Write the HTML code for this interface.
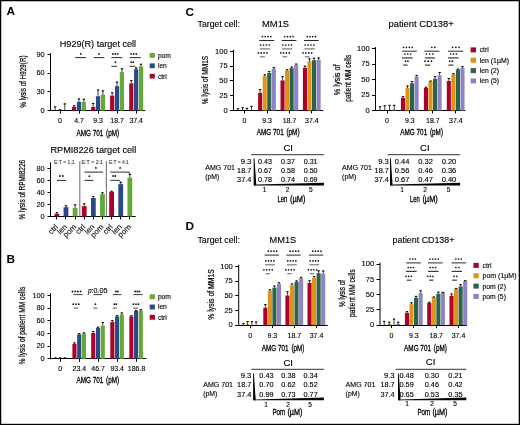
<!DOCTYPE html>
<html><head><meta charset="utf-8"><style>
html,body{margin:0;padding:0;background:#fff;}
body{width:520px;height:425px;overflow:hidden;}
svg{display:block;filter:blur(0.3px);font-family:"Liberation Sans", sans-serif;}
</style></head><body>
<svg width="520" height="425" viewBox="0 0 520 425">
<rect width="520" height="425" fill="#fff"/>
<rect x="0" y="0" width="1.25" height="425" fill="#000"/>
<rect x="0" y="0" width="520" height="1.25" fill="#000"/>
<rect x="518.7" y="0" width="1.3" height="425" fill="#000"/>
<rect x="0" y="423.8" width="520" height="1.2" fill="#000"/>
<text x="6.6" y="15.3" font-size="11.8" font-weight="bold">A</text>
<text x="6.6" y="263.3" font-size="11.8" font-weight="bold">B</text>
<text x="185.4" y="15.5" font-size="11.8" font-weight="bold">C</text>
<text x="185.4" y="230.2" font-size="11.8" font-weight="bold">D</text>
<line x1="50.5" y1="53.2" x2="50.5" y2="111.1" stroke="#000" stroke-width="1"/>
<line x1="50" y1="110.5" x2="145.2" y2="110.5" stroke="#000" stroke-width="1"/>
<line x1="47.5" y1="110.5" x2="50.5" y2="110.5" stroke="#000" stroke-width="1"/>
<text x="44.7" y="112.9" font-size="8" stroke="#000" stroke-width="0.12" text-anchor="end" textLength="4.1" lengthAdjust="spacingAndGlyphs">0</text>
<line x1="47.5" y1="91.5" x2="50.5" y2="91.5" stroke="#000" stroke-width="1"/>
<text x="44.7" y="94.17" font-size="8" stroke="#000" stroke-width="0.12" text-anchor="end" textLength="8.2" lengthAdjust="spacingAndGlyphs">30</text>
<line x1="47.5" y1="73.5" x2="50.5" y2="73.5" stroke="#000" stroke-width="1"/>
<text x="44.7" y="75.43" font-size="8" stroke="#000" stroke-width="0.12" text-anchor="end" textLength="8.2" lengthAdjust="spacingAndGlyphs">60</text>
<line x1="47.5" y1="54.5" x2="50.5" y2="54.5" stroke="#000" stroke-width="1"/>
<text x="44.7" y="56.7" font-size="8" stroke="#000" stroke-width="0.12" text-anchor="end" textLength="8.2" lengthAdjust="spacingAndGlyphs">90</text>
<text x="59.8" y="47.1" font-size="8.7" stroke="#000" stroke-width="0.12" textLength="76.3" lengthAdjust="spacingAndGlyphs">H929(R) target cell</text>
<text x="25.7" y="81.6" font-size="8.8" stroke="#000" stroke-width="0.2" text-anchor="middle" textLength="52.3" lengthAdjust="spacingAndGlyphs" transform="rotate(-90 25.7 81.6)">% lysis of H929(R)</text>
<line x1="60.5" y1="110.6" x2="60.5" y2="113.6" stroke="#000" stroke-width="1"/>
<text x="60" y="123.4" font-size="7" stroke="#000" stroke-width="0.12" text-anchor="middle">0</text>
<line x1="79.5" y1="110.6" x2="79.5" y2="113.6" stroke="#000" stroke-width="1"/>
<text x="79" y="123.4" font-size="7" stroke="#000" stroke-width="0.12" text-anchor="middle">4.7</text>
<line x1="98.5" y1="110.6" x2="98.5" y2="113.6" stroke="#000" stroke-width="1"/>
<text x="98.1" y="123.4" font-size="7" stroke="#000" stroke-width="0.12" text-anchor="middle">9.3</text>
<line x1="117.5" y1="110.6" x2="117.5" y2="113.6" stroke="#000" stroke-width="1"/>
<text x="117.1" y="123.4" font-size="7" stroke="#000" stroke-width="0.12" text-anchor="middle">18.7</text>
<line x1="136.5" y1="110.6" x2="136.5" y2="113.6" stroke="#000" stroke-width="1"/>
<text x="136.2" y="123.4" font-size="7" stroke="#000" stroke-width="0.12" text-anchor="middle">37.4</text>
<text x="76.4" y="135.7" font-size="9" stroke="#000" stroke-width="0.3" textLength="26.9" lengthAdjust="spacingAndGlyphs">AMG 701</text>
<text x="106.1" y="135.7" font-size="9" stroke="#000" stroke-width="0.3" textLength="13" lengthAdjust="spacingAndGlyphs">(pM)</text>
<rect x="53" y="110.6" width="4.2" height="0" fill="#a9032a"/>
<line x1="55.1" y1="110.6" x2="55.1" y2="106.4" stroke="#2a2a2a" stroke-width="0.9"/>
<line x1="53.9" y1="106.9" x2="56.3" y2="106.9" stroke="#111" stroke-width="1.1"/>
<rect x="57.85" y="110.6" width="4.2" height="0" fill="#2a4a87"/>
<line x1="59.95" y1="110.6" x2="59.95" y2="109.2" stroke="#2a2a2a" stroke-width="0.9"/>
<line x1="58.75" y1="109.7" x2="61.15" y2="109.7" stroke="#111" stroke-width="1.1"/>
<rect x="62.7" y="110.6" width="4.2" height="0" fill="#64a83a"/>
<line x1="64.8" y1="110.6" x2="64.8" y2="103.4" stroke="#2a2a2a" stroke-width="0.9"/>
<line x1="63.6" y1="103.9" x2="66" y2="103.9" stroke="#111" stroke-width="1.1"/>
<rect x="72" y="106.9" width="4.2" height="3.7" fill="#a9032a"/>
<line x1="74.1" y1="106.9" x2="74.1" y2="105.2" stroke="#2a2a2a" stroke-width="0.9"/>
<line x1="72.9" y1="105.7" x2="75.3" y2="105.7" stroke="#111" stroke-width="1.1"/>
<rect x="76.85" y="101.8" width="4.2" height="8.8" fill="#2a4a87"/>
<line x1="78.95" y1="101.8" x2="78.95" y2="98.4" stroke="#2a2a2a" stroke-width="0.9"/>
<line x1="77.75" y1="98.9" x2="80.15" y2="98.9" stroke="#111" stroke-width="1.1"/>
<rect x="81.7" y="101.8" width="4.2" height="8.8" fill="#64a83a"/>
<line x1="83.8" y1="101.8" x2="83.8" y2="98.8" stroke="#2a2a2a" stroke-width="0.9"/>
<line x1="82.6" y1="99.3" x2="85" y2="99.3" stroke="#111" stroke-width="1.1"/>
<rect x="91.1" y="106.9" width="4.2" height="3.7" fill="#a9032a"/>
<line x1="93.2" y1="106.9" x2="93.2" y2="103" stroke="#2a2a2a" stroke-width="0.9"/>
<line x1="92" y1="103.5" x2="94.4" y2="103.5" stroke="#111" stroke-width="1.1"/>
<rect x="95.95" y="96.2" width="4.2" height="14.4" fill="#2a4a87"/>
<line x1="98.05" y1="96.2" x2="98.05" y2="89.5" stroke="#2a2a2a" stroke-width="0.9"/>
<line x1="96.85" y1="90" x2="99.25" y2="90" stroke="#111" stroke-width="1.1"/>
<rect x="100.8" y="94.7" width="4.2" height="15.9" fill="#64a83a"/>
<line x1="102.9" y1="94.7" x2="102.9" y2="90.4" stroke="#2a2a2a" stroke-width="0.9"/>
<line x1="101.7" y1="90.9" x2="104.1" y2="90.9" stroke="#111" stroke-width="1.1"/>
<rect x="110.1" y="95.6" width="4.2" height="15" fill="#a9032a"/>
<line x1="112.2" y1="95.6" x2="112.2" y2="92.3" stroke="#2a2a2a" stroke-width="0.9"/>
<line x1="111" y1="92.8" x2="113.4" y2="92.8" stroke="#111" stroke-width="1.1"/>
<rect x="114.95" y="86.2" width="4.2" height="24.4" fill="#2a4a87"/>
<line x1="117.05" y1="86.2" x2="117.05" y2="81.6" stroke="#2a2a2a" stroke-width="0.9"/>
<line x1="115.85" y1="82.1" x2="118.25" y2="82.1" stroke="#111" stroke-width="1.1"/>
<rect x="119.8" y="72.1" width="4.2" height="38.5" fill="#64a83a"/>
<line x1="121.9" y1="72.1" x2="121.9" y2="68.3" stroke="#2a2a2a" stroke-width="0.9"/>
<line x1="120.7" y1="68.8" x2="123.1" y2="68.8" stroke="#111" stroke-width="1.1"/>
<rect x="129.2" y="83.4" width="4.2" height="27.2" fill="#a9032a"/>
<line x1="131.3" y1="83.4" x2="131.3" y2="80" stroke="#2a2a2a" stroke-width="0.9"/>
<line x1="130.1" y1="80.5" x2="132.5" y2="80.5" stroke="#111" stroke-width="1.1"/>
<rect x="134.05" y="69.2" width="4.2" height="41.4" fill="#2a4a87"/>
<line x1="136.15" y1="69.2" x2="136.15" y2="67.6" stroke="#2a2a2a" stroke-width="0.9"/>
<line x1="134.95" y1="68.1" x2="137.35" y2="68.1" stroke="#111" stroke-width="1.1"/>
<rect x="138.9" y="66.3" width="4.2" height="44.3" fill="#64a83a"/>
<line x1="141" y1="66.3" x2="141" y2="63.8" stroke="#2a2a2a" stroke-width="0.9"/>
<line x1="139.8" y1="64.3" x2="142.2" y2="64.3" stroke="#111" stroke-width="1.1"/>
<line x1="75.4" y1="57.6" x2="86.2" y2="57.6" stroke="#111" stroke-width="0.9"/>
<line x1="93.6" y1="57.6" x2="104.3" y2="57.6" stroke="#111" stroke-width="0.9"/>
<line x1="111.4" y1="57.6" x2="122.3" y2="57.6" stroke="#111" stroke-width="0.9"/>
<line x1="129.6" y1="57.6" x2="140.8" y2="57.6" stroke="#111" stroke-width="0.9"/>
<circle cx="80.8" cy="53.9" r="0.9" fill="#111"/>
<circle cx="99" cy="53.9" r="0.9" fill="#111"/>
<circle cx="112.9" cy="53.9" r="0.9" fill="#111"/>
<circle cx="115.3" cy="53.9" r="0.9" fill="#111"/>
<circle cx="117.7" cy="53.9" r="0.9" fill="#111"/>
<circle cx="131.1" cy="53.9" r="0.9" fill="#111"/>
<circle cx="133.7" cy="53.9" r="0.9" fill="#111"/>
<circle cx="136.3" cy="53.9" r="0.9" fill="#111"/>
<line x1="111.4" y1="66.3" x2="117" y2="66.3" stroke="#111" stroke-width="0.9"/>
<circle cx="115.4" cy="62.2" r="0.9" fill="#111"/>
<line x1="129.6" y1="66.3" x2="134.8" y2="66.3" stroke="#111" stroke-width="0.9"/>
<line x1="134.6" y1="66.3" x2="135.8" y2="67.6" stroke="#111" stroke-width="0.8"/>
<circle cx="131.1" cy="62.2" r="0.9" fill="#111"/>
<circle cx="133.3" cy="62.2" r="0.9" fill="#111"/>
<rect x="149.7" y="53" width="5.1" height="4.8" fill="#64a83a"/>
<text x="157.9" y="57.9" font-size="6.7" stroke="#000" stroke-width="0.12">pom</text>
<rect x="149.7" y="63.4" width="5.1" height="4.8" fill="#2a4a87"/>
<text x="157.9" y="68.3" font-size="6.7" stroke="#000" stroke-width="0.12">len</text>
<rect x="149.7" y="73.8" width="5.1" height="4.8" fill="#a9032a"/>
<text x="157.9" y="78.7" font-size="6.7" stroke="#000" stroke-width="0.12">ctrl</text>
<line x1="50.5" y1="162.3" x2="50.5" y2="217" stroke="#000" stroke-width="1"/>
<line x1="50" y1="216.5" x2="135.7" y2="216.5" stroke="#000" stroke-width="1"/>
<line x1="47.5" y1="216.5" x2="50.5" y2="216.5" stroke="#000" stroke-width="1"/>
<text x="44.6" y="218.8" font-size="8" stroke="#000" stroke-width="0.12" text-anchor="end" textLength="4.1" lengthAdjust="spacingAndGlyphs">0</text>
<line x1="47.5" y1="204.5" x2="50.5" y2="204.5" stroke="#000" stroke-width="1"/>
<text x="44.6" y="206.73" font-size="8" stroke="#000" stroke-width="0.12" text-anchor="end" textLength="8.2" lengthAdjust="spacingAndGlyphs">20</text>
<line x1="47.5" y1="192.5" x2="50.5" y2="192.5" stroke="#000" stroke-width="1"/>
<text x="44.6" y="194.65" font-size="8" stroke="#000" stroke-width="0.12" text-anchor="end" textLength="8.2" lengthAdjust="spacingAndGlyphs">40</text>
<line x1="47.5" y1="180.5" x2="50.5" y2="180.5" stroke="#000" stroke-width="1"/>
<text x="44.6" y="182.57" font-size="8" stroke="#000" stroke-width="0.12" text-anchor="end" textLength="8.2" lengthAdjust="spacingAndGlyphs">60</text>
<line x1="47.5" y1="168.5" x2="50.5" y2="168.5" stroke="#000" stroke-width="1"/>
<text x="44.6" y="170.5" font-size="8" stroke="#000" stroke-width="0.12" text-anchor="end" textLength="8.2" lengthAdjust="spacingAndGlyphs">80</text>
<text x="50.4" y="153.3" font-size="8.7" stroke="#000" stroke-width="0.12" textLength="85.8" lengthAdjust="spacingAndGlyphs">RPMI8226 target cell</text>
<text x="24.7" y="189.7" font-size="8.5" stroke="#000" stroke-width="0.2" text-anchor="middle" textLength="59.5" lengthAdjust="spacingAndGlyphs" transform="rotate(-90 24.7 189.7)">% lysis of RPMI8226</text>
<line x1="79.8" y1="161.3" x2="79.8" y2="216.5" stroke="#777" stroke-width="1.1"/>
<line x1="106.4" y1="161.3" x2="106.4" y2="216.5" stroke="#777" stroke-width="1.1"/>
<text x="53.9" y="163.6" font-size="5" stroke="#444" stroke-width="0.12" textLength="20.8" lengthAdjust="spacingAndGlyphs" fill="#444">E:T = 1:1</text>
<text x="81.6" y="163.6" font-size="5" stroke="#444" stroke-width="0.12" textLength="21.4" lengthAdjust="spacingAndGlyphs" fill="#444">E:T = 2:1</text>
<text x="109" y="163.6" font-size="5" stroke="#444" stroke-width="0.12" textLength="19.8" lengthAdjust="spacingAndGlyphs" fill="#444">E:T = 4:1</text>
<rect x="54.45" y="213.8" width="4.8" height="2.7" fill="#a9032a"/>
<line x1="56.85" y1="213.8" x2="56.85" y2="212.2" stroke="#2a2a2a" stroke-width="0.9"/>
<line x1="55.65" y1="212.7" x2="58.05" y2="212.7" stroke="#111" stroke-width="1.1"/>
<line x1="56.5" y1="216.5" x2="56.5" y2="219.5" stroke="#000" stroke-width="1"/>
<text x="58.55" y="227.4" font-size="7.8" stroke="#000" stroke-width="0.12" text-anchor="end" transform="rotate(-45 58.55 227.4)">ctrl</text>
<rect x="63.57" y="207.2" width="4.8" height="9.3" fill="#2a4a87"/>
<line x1="65.97" y1="207.2" x2="65.97" y2="205.3" stroke="#2a2a2a" stroke-width="0.9"/>
<line x1="64.77" y1="205.8" x2="67.17" y2="205.8" stroke="#111" stroke-width="1.1"/>
<line x1="65.5" y1="216.5" x2="65.5" y2="219.5" stroke="#000" stroke-width="1"/>
<text x="67.67" y="227.4" font-size="7.8" stroke="#000" stroke-width="0.12" text-anchor="end" transform="rotate(-45 67.67 227.4)">len</text>
<rect x="72.7" y="207.8" width="4.8" height="8.7" fill="#64a83a"/>
<line x1="75.1" y1="207.8" x2="75.1" y2="204.3" stroke="#2a2a2a" stroke-width="0.9"/>
<line x1="73.9" y1="204.8" x2="76.3" y2="204.8" stroke="#111" stroke-width="1.1"/>
<line x1="75.5" y1="216.5" x2="75.5" y2="219.5" stroke="#000" stroke-width="1"/>
<text x="76.8" y="227.4" font-size="7.8" stroke="#000" stroke-width="0.12" text-anchor="end" transform="rotate(-45 76.8 227.4)">pom</text>
<rect x="81.82" y="206.2" width="4.8" height="10.3" fill="#a9032a"/>
<line x1="84.22" y1="206.2" x2="84.22" y2="203.3" stroke="#2a2a2a" stroke-width="0.9"/>
<line x1="83.02" y1="203.8" x2="85.42" y2="203.8" stroke="#111" stroke-width="1.1"/>
<line x1="84.5" y1="216.5" x2="84.5" y2="219.5" stroke="#000" stroke-width="1"/>
<text x="85.92" y="227.4" font-size="7.8" stroke="#000" stroke-width="0.12" text-anchor="end" transform="rotate(-45 85.92 227.4)">ctrl</text>
<rect x="90.95" y="198" width="4.8" height="18.5" fill="#2a4a87"/>
<line x1="93.35" y1="198" x2="93.35" y2="196" stroke="#2a2a2a" stroke-width="0.9"/>
<line x1="92.15" y1="196.5" x2="94.55" y2="196.5" stroke="#111" stroke-width="1.1"/>
<line x1="93.5" y1="216.5" x2="93.5" y2="219.5" stroke="#000" stroke-width="1"/>
<text x="95.05" y="227.4" font-size="7.8" stroke="#000" stroke-width="0.12" text-anchor="end" transform="rotate(-45 95.05 227.4)">len</text>
<rect x="100.07" y="194.1" width="4.8" height="22.4" fill="#64a83a"/>
<line x1="102.47" y1="194.1" x2="102.47" y2="192.2" stroke="#2a2a2a" stroke-width="0.9"/>
<line x1="101.27" y1="192.7" x2="103.67" y2="192.7" stroke="#111" stroke-width="1.1"/>
<line x1="102.5" y1="216.5" x2="102.5" y2="219.5" stroke="#000" stroke-width="1"/>
<text x="104.17" y="227.4" font-size="7.8" stroke="#000" stroke-width="0.12" text-anchor="end" transform="rotate(-45 104.17 227.4)">pom</text>
<rect x="109.2" y="191.9" width="4.8" height="24.6" fill="#a9032a"/>
<line x1="111.6" y1="191.9" x2="111.6" y2="190.9" stroke="#2a2a2a" stroke-width="0.9"/>
<line x1="110.4" y1="191.4" x2="112.8" y2="191.4" stroke="#111" stroke-width="1.1"/>
<line x1="111.5" y1="216.5" x2="111.5" y2="219.5" stroke="#000" stroke-width="1"/>
<text x="113.3" y="227.4" font-size="7.8" stroke="#000" stroke-width="0.12" text-anchor="end" transform="rotate(-45 113.3 227.4)">ctrl</text>
<rect x="118.32" y="184.1" width="4.8" height="32.4" fill="#2a4a87"/>
<line x1="120.72" y1="184.1" x2="120.72" y2="181.9" stroke="#2a2a2a" stroke-width="0.9"/>
<line x1="119.52" y1="182.4" x2="121.92" y2="182.4" stroke="#111" stroke-width="1.1"/>
<line x1="120.5" y1="216.5" x2="120.5" y2="219.5" stroke="#000" stroke-width="1"/>
<text x="122.42" y="227.4" font-size="7.8" stroke="#000" stroke-width="0.12" text-anchor="end" transform="rotate(-45 122.42 227.4)">len</text>
<rect x="127.45" y="177.7" width="4.8" height="38.8" fill="#64a83a"/>
<line x1="129.85" y1="177.7" x2="129.85" y2="173.9" stroke="#2a2a2a" stroke-width="0.9"/>
<line x1="128.65" y1="174.4" x2="131.05" y2="174.4" stroke="#111" stroke-width="1.1"/>
<line x1="129.5" y1="216.5" x2="129.5" y2="219.5" stroke="#000" stroke-width="1"/>
<text x="131.55" y="227.4" font-size="7.8" stroke="#000" stroke-width="0.12" text-anchor="end" transform="rotate(-45 131.55 227.4)">pom</text>
<line x1="57" y1="180.4" x2="66" y2="180.4" stroke="#111" stroke-width="0.9"/>
<circle cx="59.9" cy="176" r="0.9" fill="#111"/>
<circle cx="62.9" cy="176" r="0.9" fill="#111"/>
<line x1="84.5" y1="180.4" x2="93.4" y2="180.4" stroke="#111" stroke-width="0.9"/>
<circle cx="89.4" cy="176.2" r="0.9" fill="#111"/>
<line x1="84.5" y1="172.1" x2="103" y2="172.1" stroke="#111" stroke-width="0.9"/>
<circle cx="95.9" cy="167.9" r="0.9" fill="#111"/>
<line x1="110.3" y1="172.1" x2="129.2" y2="172.1" stroke="#111" stroke-width="0.9"/>
<line x1="129.2" y1="172.1" x2="129.4" y2="173.8" stroke="#111" stroke-width="0.8"/>
<circle cx="120.1" cy="167.9" r="0.9" fill="#111"/>
<line x1="110.3" y1="180.3" x2="119.4" y2="180.3" stroke="#111" stroke-width="0.9"/>
<line x1="119.3" y1="180.3" x2="120.5" y2="181.9" stroke="#111" stroke-width="0.8"/>
<circle cx="113.1" cy="176" r="0.9" fill="#111"/>
<circle cx="115.3" cy="176" r="0.9" fill="#111"/>
<line x1="50.5" y1="293.2" x2="50.5" y2="359.3" stroke="#000" stroke-width="1"/>
<line x1="50" y1="358.5" x2="146.2" y2="358.5" stroke="#000" stroke-width="1"/>
<line x1="47.5" y1="358.5" x2="50.5" y2="358.5" stroke="#000" stroke-width="1"/>
<text x="44.7" y="361.1" font-size="8" stroke="#000" stroke-width="0.12" text-anchor="end" textLength="4.1" lengthAdjust="spacingAndGlyphs">0</text>
<line x1="47.5" y1="346.5" x2="50.5" y2="346.5" stroke="#000" stroke-width="1"/>
<text x="44.7" y="348.4" font-size="8" stroke="#000" stroke-width="0.12" text-anchor="end" textLength="8.2" lengthAdjust="spacingAndGlyphs">20</text>
<line x1="47.5" y1="333.5" x2="50.5" y2="333.5" stroke="#000" stroke-width="1"/>
<text x="44.7" y="335.7" font-size="8" stroke="#000" stroke-width="0.12" text-anchor="end" textLength="8.2" lengthAdjust="spacingAndGlyphs">40</text>
<line x1="47.5" y1="320.5" x2="50.5" y2="320.5" stroke="#000" stroke-width="1"/>
<text x="44.7" y="323" font-size="8" stroke="#000" stroke-width="0.12" text-anchor="end" textLength="8.2" lengthAdjust="spacingAndGlyphs">60</text>
<line x1="47.5" y1="308.5" x2="50.5" y2="308.5" stroke="#000" stroke-width="1"/>
<text x="44.7" y="310.3" font-size="8" stroke="#000" stroke-width="0.12" text-anchor="end" textLength="8.2" lengthAdjust="spacingAndGlyphs">80</text>
<line x1="47.5" y1="295.5" x2="50.5" y2="295.5" stroke="#000" stroke-width="1"/>
<text x="44.7" y="297.6" font-size="8" stroke="#000" stroke-width="0.12" text-anchor="end" textLength="12.3" lengthAdjust="spacingAndGlyphs">100</text>
<text x="25.4" y="325.6" font-size="8.8" stroke="#000" stroke-width="0.2" text-anchor="middle" textLength="77.8" lengthAdjust="spacingAndGlyphs" transform="rotate(-90 25.4 325.6)">% lysis of patient MM cells</text>
<line x1="60.5" y1="358.8" x2="60.5" y2="361.8" stroke="#000" stroke-width="1"/>
<text x="60.2" y="370.9" font-size="7" stroke="#000" stroke-width="0.12" text-anchor="middle">0</text>
<line x1="79.5" y1="358.8" x2="79.5" y2="361.8" stroke="#000" stroke-width="1"/>
<text x="79.3" y="370.9" font-size="7" stroke="#000" stroke-width="0.12" text-anchor="middle">23.4</text>
<line x1="98.5" y1="358.8" x2="98.5" y2="361.8" stroke="#000" stroke-width="1"/>
<text x="98.1" y="370.9" font-size="7" stroke="#000" stroke-width="0.12" text-anchor="middle">46.7</text>
<line x1="117.5" y1="358.8" x2="117.5" y2="361.8" stroke="#000" stroke-width="1"/>
<text x="117.2" y="370.9" font-size="7" stroke="#000" stroke-width="0.12" text-anchor="middle">93.4</text>
<line x1="136.5" y1="358.8" x2="136.5" y2="361.8" stroke="#000" stroke-width="1"/>
<text x="136.6" y="370.9" font-size="7" stroke="#000" stroke-width="0.12" text-anchor="middle">186.8</text>
<text x="76.4" y="383" font-size="9" stroke="#000" stroke-width="0.3" textLength="26.9" lengthAdjust="spacingAndGlyphs">AMG 701</text>
<text x="106.1" y="383" font-size="9" stroke="#000" stroke-width="0.3" textLength="13" lengthAdjust="spacingAndGlyphs">(pM)</text>
<line x1="54.3" y1="357.9" x2="56.5" y2="357.9" stroke="#111" stroke-width="1.2"/>
<line x1="59.05" y1="357.9" x2="61.25" y2="357.9" stroke="#111" stroke-width="1.2"/>
<line x1="63.8" y1="357.9" x2="66" y2="357.9" stroke="#111" stroke-width="1.2"/>
<rect x="72.4" y="344" width="4.1" height="14.8" fill="#a9032a"/>
<line x1="74.45" y1="344" x2="74.45" y2="342.4" stroke="#2a2a2a" stroke-width="0.9"/>
<line x1="73.25" y1="342.9" x2="75.65" y2="342.9" stroke="#111" stroke-width="1.1"/>
<rect x="77.15" y="334.4" width="4.1" height="24.4" fill="#2a4a87"/>
<line x1="79.2" y1="334.4" x2="79.2" y2="333.2" stroke="#2a2a2a" stroke-width="0.9"/>
<line x1="78" y1="333.7" x2="80.4" y2="333.7" stroke="#111" stroke-width="1.1"/>
<rect x="81.9" y="333.6" width="4.1" height="25.2" fill="#64a83a"/>
<line x1="83.95" y1="333.6" x2="83.95" y2="332.4" stroke="#2a2a2a" stroke-width="0.9"/>
<line x1="82.75" y1="332.9" x2="85.15" y2="332.9" stroke="#111" stroke-width="1.1"/>
<rect x="91.2" y="333" width="4.1" height="25.8" fill="#a9032a"/>
<line x1="93.25" y1="333" x2="93.25" y2="331" stroke="#2a2a2a" stroke-width="0.9"/>
<line x1="92.05" y1="331.5" x2="94.45" y2="331.5" stroke="#111" stroke-width="1.1"/>
<rect x="95.95" y="328" width="4.1" height="30.8" fill="#2a4a87"/>
<line x1="98" y1="328" x2="98" y2="326.8" stroke="#2a2a2a" stroke-width="0.9"/>
<line x1="96.8" y1="327.3" x2="99.2" y2="327.3" stroke="#111" stroke-width="1.1"/>
<rect x="100.7" y="325.6" width="4.1" height="33.2" fill="#64a83a"/>
<line x1="102.75" y1="325.6" x2="102.75" y2="322" stroke="#2a2a2a" stroke-width="0.9"/>
<line x1="101.55" y1="322.5" x2="103.95" y2="322.5" stroke="#111" stroke-width="1.1"/>
<rect x="110.3" y="322" width="4.1" height="36.8" fill="#a9032a"/>
<line x1="112.35" y1="322" x2="112.35" y2="320" stroke="#2a2a2a" stroke-width="0.9"/>
<line x1="111.15" y1="320.5" x2="113.55" y2="320.5" stroke="#111" stroke-width="1.1"/>
<rect x="115.05" y="316.4" width="4.1" height="42.4" fill="#2a4a87"/>
<line x1="117.1" y1="316.4" x2="117.1" y2="315.2" stroke="#2a2a2a" stroke-width="0.9"/>
<line x1="115.9" y1="315.7" x2="118.3" y2="315.7" stroke="#111" stroke-width="1.1"/>
<rect x="119.8" y="314.4" width="4.1" height="44.4" fill="#64a83a"/>
<line x1="121.85" y1="314.4" x2="121.85" y2="312.4" stroke="#2a2a2a" stroke-width="0.9"/>
<line x1="120.65" y1="312.9" x2="123.05" y2="312.9" stroke="#111" stroke-width="1.1"/>
<rect x="129.3" y="316.4" width="4.1" height="42.4" fill="#a9032a"/>
<line x1="131.35" y1="316.4" x2="131.35" y2="315.2" stroke="#2a2a2a" stroke-width="0.9"/>
<line x1="130.15" y1="315.7" x2="132.55" y2="315.7" stroke="#111" stroke-width="1.1"/>
<rect x="134.05" y="311" width="4.1" height="47.8" fill="#2a4a87"/>
<line x1="136.1" y1="311" x2="136.1" y2="310" stroke="#2a2a2a" stroke-width="0.9"/>
<line x1="134.9" y1="310.5" x2="137.3" y2="310.5" stroke="#111" stroke-width="1.1"/>
<rect x="138.8" y="310.6" width="4.1" height="48.2" fill="#64a83a"/>
<line x1="140.85" y1="310.6" x2="140.85" y2="309.2" stroke="#2a2a2a" stroke-width="0.9"/>
<line x1="139.65" y1="309.7" x2="142.05" y2="309.7" stroke="#111" stroke-width="1.1"/>
<text x="87.9" y="292.7" font-size="6.6" stroke="#000" stroke-width="0.12" font-style="italic">p</text>
<text x="91.4" y="292.7" font-size="6.6" stroke="#000" stroke-width="0.12" textLength="16.2" lengthAdjust="spacingAndGlyphs">:0.05</text>
<line x1="73.4" y1="294.6" x2="82.6" y2="294.6" stroke="#222" stroke-width="0.9"/>
<line x1="93.4" y1="294.6" x2="102.2" y2="294.6" stroke="#222" stroke-width="0.9"/>
<line x1="112.8" y1="294.6" x2="121.4" y2="294.6" stroke="#222" stroke-width="0.9"/>
<line x1="133.4" y1="294.6" x2="142.6" y2="294.6" stroke="#222" stroke-width="0.9"/>
<circle cx="72.5" cy="291.5" r="0.9" fill="#111"/>
<circle cx="75.17" cy="291.5" r="0.9" fill="#111"/>
<circle cx="77.83" cy="291.5" r="0.9" fill="#111"/>
<circle cx="80.5" cy="291.5" r="0.9" fill="#111"/>
<circle cx="115.9" cy="291.5" r="0.9" fill="#111"/>
<circle cx="117.9" cy="291.5" r="0.9" fill="#111"/>
<circle cx="135.1" cy="291.5" r="0.9" fill="#111"/>
<circle cx="137.25" cy="291.5" r="0.9" fill="#111"/>
<circle cx="139.4" cy="291.5" r="0.9" fill="#111"/>
<line x1="73.8" y1="308.1" x2="78" y2="308.1" stroke="#333" stroke-width="0.9"/>
<line x1="93.4" y1="308.1" x2="97.2" y2="308.1" stroke="#333" stroke-width="0.9"/>
<line x1="112.8" y1="308.1" x2="116.9" y2="308.1" stroke="#333" stroke-width="0.9"/>
<line x1="133.4" y1="308.1" x2="138" y2="308.1" stroke="#333" stroke-width="0.9"/>
<circle cx="73.3" cy="304.2" r="0.9" fill="#111"/>
<circle cx="76.1" cy="304.2" r="0.9" fill="#111"/>
<circle cx="78.9" cy="304.2" r="0.9" fill="#111"/>
<circle cx="95.4" cy="304.2" r="0.9" fill="#111"/>
<circle cx="114.3" cy="304.2" r="0.9" fill="#111"/>
<circle cx="116.3" cy="304.2" r="0.9" fill="#111"/>
<circle cx="133.5" cy="304.2" r="0.9" fill="#111"/>
<circle cx="136.05" cy="304.2" r="0.9" fill="#111"/>
<circle cx="138.6" cy="304.2" r="0.9" fill="#111"/>
<rect x="149.7" y="294.3" width="5.2" height="4.9" fill="#64a83a"/>
<text x="157.9" y="299" font-size="6.7" stroke="#000" stroke-width="0.12">pom</text>
<rect x="149.7" y="304.55" width="5.2" height="4.9" fill="#2a4a87"/>
<text x="157.9" y="309.25" font-size="6.7" stroke="#000" stroke-width="0.12">len</text>
<rect x="149.7" y="314.8" width="5.2" height="4.9" fill="#a9032a"/>
<text x="157.9" y="319.5" font-size="6.7" stroke="#000" stroke-width="0.12">ctrl</text>
<text x="197.5" y="27" font-size="8.7" stroke="#000" stroke-width="0.12" textLength="42.4" lengthAdjust="spacingAndGlyphs">Target cell:</text>
<text x="262.1" y="27" font-size="8.9" stroke="#000" stroke-width="0.12" textLength="27" lengthAdjust="spacingAndGlyphs">MM1S</text>
<text x="208" y="80" font-size="8.8" stroke="#000" stroke-width="0.2" text-anchor="middle" textLength="48.3" lengthAdjust="spacingAndGlyphs" transform="rotate(-90 208 80)">% lysis of MM1S</text>
<line x1="233.5" y1="49.7" x2="233.5" y2="111" stroke="#000" stroke-width="1"/>
<line x1="233" y1="110.5" x2="323.2" y2="110.5" stroke="#000" stroke-width="1"/>
<line x1="230" y1="110.5" x2="233.5" y2="110.5" stroke="#000" stroke-width="1"/>
<text x="227.6" y="112.8" font-size="8" stroke="#000" stroke-width="0.12" text-anchor="end" textLength="4.2" lengthAdjust="spacingAndGlyphs">0</text>
<line x1="230" y1="95.5" x2="233.5" y2="95.5" stroke="#000" stroke-width="1"/>
<text x="227.6" y="97.97" font-size="8" stroke="#000" stroke-width="0.12" text-anchor="end" textLength="8.4" lengthAdjust="spacingAndGlyphs">25</text>
<line x1="230" y1="80.5" x2="233.5" y2="80.5" stroke="#000" stroke-width="1"/>
<text x="227.6" y="83.15" font-size="8" stroke="#000" stroke-width="0.12" text-anchor="end" textLength="8.4" lengthAdjust="spacingAndGlyphs">50</text>
<line x1="230" y1="66.5" x2="233.5" y2="66.5" stroke="#000" stroke-width="1"/>
<text x="227.6" y="68.33" font-size="8" stroke="#000" stroke-width="0.12" text-anchor="end" textLength="8.4" lengthAdjust="spacingAndGlyphs">75</text>
<line x1="230" y1="51.5" x2="233.5" y2="51.5" stroke="#000" stroke-width="1"/>
<text x="227.6" y="53.5" font-size="8" stroke="#000" stroke-width="0.12" text-anchor="end" textLength="12.6" lengthAdjust="spacingAndGlyphs">100</text>
<line x1="244.5" y1="110.5" x2="244.5" y2="113.5" stroke="#000" stroke-width="1"/>
<text x="244.5" y="123.3" font-size="7" stroke="#000" stroke-width="0.12" text-anchor="middle">0</text>
<line x1="267.5" y1="110.5" x2="267.5" y2="113.5" stroke="#000" stroke-width="1"/>
<text x="267.1" y="123.3" font-size="7" stroke="#000" stroke-width="0.12" text-anchor="middle">9.3</text>
<line x1="289.5" y1="110.5" x2="289.5" y2="113.5" stroke="#000" stroke-width="1"/>
<text x="289.5" y="123.3" font-size="7" stroke="#000" stroke-width="0.12" text-anchor="middle">18.7</text>
<line x1="311.5" y1="110.5" x2="311.5" y2="113.5" stroke="#000" stroke-width="1"/>
<text x="311.9" y="123.3" font-size="7" stroke="#000" stroke-width="0.12" text-anchor="middle">37.4</text>
<text x="256.8" y="135.4" font-size="9" stroke="#000" stroke-width="0.3" textLength="26.9" lengthAdjust="spacingAndGlyphs">AMG 701</text>
<text x="286.5" y="135.4" font-size="9" stroke="#000" stroke-width="0.3" textLength="13" lengthAdjust="spacingAndGlyphs">(pM)</text>
<line x1="238" y1="110.5" x2="238" y2="108.2" stroke="#2a2a2a" stroke-width="0.9"/>
<line x1="236.8" y1="108.7" x2="239.2" y2="108.7" stroke="#111" stroke-width="1.1"/>
<line x1="242.6" y1="110.5" x2="242.6" y2="107.2" stroke="#2a2a2a" stroke-width="0.9"/>
<line x1="241.4" y1="107.7" x2="243.8" y2="107.7" stroke="#111" stroke-width="1.1"/>
<line x1="247" y1="110.5" x2="247" y2="107.9" stroke="#2a2a2a" stroke-width="0.9"/>
<line x1="245.8" y1="108.4" x2="248.2" y2="108.4" stroke="#111" stroke-width="1.1"/>
<line x1="251.5" y1="110.5" x2="251.5" y2="105.9" stroke="#2a2a2a" stroke-width="0.9"/>
<line x1="250.3" y1="106.4" x2="252.7" y2="106.4" stroke="#111" stroke-width="1.1"/>
<rect x="258.1" y="92.8" width="4.1" height="17.7" fill="#a9032a"/>
<line x1="260.15" y1="92.8" x2="260.15" y2="89.1" stroke="#2a2a2a" stroke-width="0.9"/>
<line x1="258.95" y1="89.6" x2="261.35" y2="89.6" stroke="#111" stroke-width="1.1"/>
<rect x="262.65" y="76.2" width="4.1" height="34.3" fill="#e0931b"/>
<line x1="264.7" y1="76.2" x2="264.7" y2="74.3" stroke="#2a2a2a" stroke-width="0.9"/>
<line x1="263.5" y1="74.8" x2="265.9" y2="74.8" stroke="#111" stroke-width="1.1"/>
<rect x="267.2" y="72.9" width="4.1" height="37.6" fill="#2f624b"/>
<line x1="269.25" y1="72.9" x2="269.25" y2="71" stroke="#2a2a2a" stroke-width="0.9"/>
<line x1="268.05" y1="71.5" x2="270.45" y2="71.5" stroke="#111" stroke-width="1.1"/>
<rect x="271.75" y="68.8" width="4.1" height="41.7" fill="#8d84c5"/>
<line x1="273.8" y1="68.8" x2="273.8" y2="67.1" stroke="#2a2a2a" stroke-width="0.9"/>
<line x1="272.6" y1="67.6" x2="275" y2="67.6" stroke="#111" stroke-width="1.1"/>
<rect x="280.5" y="80.4" width="4.1" height="30.1" fill="#a9032a"/>
<line x1="282.55" y1="80.4" x2="282.55" y2="76.1" stroke="#2a2a2a" stroke-width="0.9"/>
<line x1="281.35" y1="76.6" x2="283.75" y2="76.6" stroke="#111" stroke-width="1.1"/>
<rect x="285.05" y="70.6" width="4.1" height="39.9" fill="#e0931b"/>
<line x1="287.1" y1="70.6" x2="287.1" y2="69.2" stroke="#2a2a2a" stroke-width="0.9"/>
<line x1="285.9" y1="69.7" x2="288.3" y2="69.7" stroke="#111" stroke-width="1.1"/>
<rect x="289.6" y="68.1" width="4.1" height="42.4" fill="#2f624b"/>
<line x1="291.65" y1="68.1" x2="291.65" y2="66.6" stroke="#2a2a2a" stroke-width="0.9"/>
<line x1="290.45" y1="67.1" x2="292.85" y2="67.1" stroke="#111" stroke-width="1.1"/>
<rect x="294.15" y="65.1" width="4.1" height="45.4" fill="#8d84c5"/>
<line x1="296.2" y1="65.1" x2="296.2" y2="63.6" stroke="#2a2a2a" stroke-width="0.9"/>
<line x1="295" y1="64.1" x2="297.4" y2="64.1" stroke="#111" stroke-width="1.1"/>
<rect x="302.9" y="67.8" width="4.1" height="42.7" fill="#a9032a"/>
<line x1="304.95" y1="67.8" x2="304.95" y2="65.7" stroke="#2a2a2a" stroke-width="0.9"/>
<line x1="303.75" y1="66.2" x2="306.15" y2="66.2" stroke="#111" stroke-width="1.1"/>
<rect x="307.45" y="61.2" width="4.1" height="49.3" fill="#e0931b"/>
<line x1="309.5" y1="61.2" x2="309.5" y2="58.4" stroke="#2a2a2a" stroke-width="0.9"/>
<line x1="308.3" y1="58.9" x2="310.7" y2="58.9" stroke="#111" stroke-width="1.1"/>
<rect x="312" y="60.2" width="4.1" height="50.3" fill="#2f624b"/>
<line x1="314.05" y1="60.2" x2="314.05" y2="57.9" stroke="#2a2a2a" stroke-width="0.9"/>
<line x1="312.85" y1="58.4" x2="315.25" y2="58.4" stroke="#111" stroke-width="1.1"/>
<rect x="316.55" y="59.8" width="4.1" height="50.7" fill="#8d84c5"/>
<line x1="318.6" y1="59.8" x2="318.6" y2="57.4" stroke="#2a2a2a" stroke-width="0.9"/>
<line x1="317.4" y1="57.9" x2="319.8" y2="57.9" stroke="#111" stroke-width="1.1"/>
<line x1="259.3" y1="40.5" x2="274.1" y2="40.5" stroke="#111" stroke-width="0.9"/>
<circle cx="262.45" cy="36.6" r="0.85" fill="#111"/>
<circle cx="265.22" cy="36.6" r="0.85" fill="#111"/>
<circle cx="267.98" cy="36.6" r="0.85" fill="#111"/>
<circle cx="270.75" cy="36.6" r="0.85" fill="#111"/>
<line x1="259.7" y1="48.9" x2="270.1" y2="48.9" stroke="#777" stroke-width="1.2"/>
<circle cx="260.55" cy="45" r="0.85" fill="#111"/>
<circle cx="263.45" cy="45" r="0.85" fill="#111"/>
<circle cx="266.35" cy="45" r="0.85" fill="#111"/>
<circle cx="269.25" cy="45" r="0.85" fill="#111"/>
<line x1="260.1" y1="56.8" x2="264.9" y2="56.8" stroke="#777" stroke-width="1.2"/>
<circle cx="258.35" cy="52.9" r="0.85" fill="#111"/>
<circle cx="261.22" cy="52.9" r="0.85" fill="#111"/>
<circle cx="264.08" cy="52.9" r="0.85" fill="#111"/>
<circle cx="266.95" cy="52.9" r="0.85" fill="#111"/>
<line x1="281.6" y1="40.5" x2="296.4" y2="40.5" stroke="#111" stroke-width="0.9"/>
<circle cx="284.75" cy="36.6" r="0.85" fill="#111"/>
<circle cx="287.52" cy="36.6" r="0.85" fill="#111"/>
<circle cx="290.28" cy="36.6" r="0.85" fill="#111"/>
<circle cx="293.05" cy="36.6" r="0.85" fill="#111"/>
<line x1="282" y1="48.9" x2="292.4" y2="48.9" stroke="#777" stroke-width="1.2"/>
<circle cx="282.85" cy="45" r="0.85" fill="#111"/>
<circle cx="285.75" cy="45" r="0.85" fill="#111"/>
<circle cx="288.65" cy="45" r="0.85" fill="#111"/>
<circle cx="291.55" cy="45" r="0.85" fill="#111"/>
<line x1="282.4" y1="56.8" x2="287.2" y2="56.8" stroke="#777" stroke-width="1.2"/>
<circle cx="280.65" cy="52.9" r="0.85" fill="#111"/>
<circle cx="283.52" cy="52.9" r="0.85" fill="#111"/>
<circle cx="286.38" cy="52.9" r="0.85" fill="#111"/>
<circle cx="289.25" cy="52.9" r="0.85" fill="#111"/>
<line x1="304" y1="40.5" x2="318.8" y2="40.5" stroke="#111" stroke-width="0.9"/>
<circle cx="307.15" cy="36.6" r="0.85" fill="#111"/>
<circle cx="309.92" cy="36.6" r="0.85" fill="#111"/>
<circle cx="312.68" cy="36.6" r="0.85" fill="#111"/>
<circle cx="315.45" cy="36.6" r="0.85" fill="#111"/>
<line x1="304.4" y1="48.9" x2="314.8" y2="48.9" stroke="#777" stroke-width="1.2"/>
<circle cx="305.25" cy="45" r="0.85" fill="#111"/>
<circle cx="308.15" cy="45" r="0.85" fill="#111"/>
<circle cx="311.05" cy="45" r="0.85" fill="#111"/>
<circle cx="313.95" cy="45" r="0.85" fill="#111"/>
<line x1="304.8" y1="56.8" x2="309.6" y2="56.8" stroke="#777" stroke-width="1.2"/>
<circle cx="303.05" cy="52.9" r="0.85" fill="#111"/>
<circle cx="305.92" cy="52.9" r="0.85" fill="#111"/>
<circle cx="308.78" cy="52.9" r="0.85" fill="#111"/>
<circle cx="311.65" cy="52.9" r="0.85" fill="#111"/>
<text x="283.4" y="150.7" font-size="9.6" stroke="#000" stroke-width="0.12">CI</text>
<line x1="251.3" y1="154.7" x2="323.9" y2="154.7" stroke="#333" stroke-width="1"/>
<text x="251.3" y="163.8" font-size="6.6" stroke="#000" stroke-width="0.12" text-anchor="end" textLength="10.65" lengthAdjust="spacingAndGlyphs">9.3</text>
<text x="251.3" y="172.9" font-size="6.6" stroke="#000" stroke-width="0.12" text-anchor="end" textLength="14.2" lengthAdjust="spacingAndGlyphs">18.7</text>
<text x="251.3" y="181.6" font-size="6.6" stroke="#000" stroke-width="0.12" text-anchor="end" textLength="14.2" lengthAdjust="spacingAndGlyphs">37.4</text>
<text x="205.2" y="170" font-size="6.9" stroke="#000" stroke-width="0.12" textLength="29.8" lengthAdjust="spacingAndGlyphs">AMG 701</text>
<text x="205.2" y="178.7" font-size="6.9" stroke="#000" stroke-width="0.12" textLength="14.2" lengthAdjust="spacingAndGlyphs">(pM)</text>
<text x="258" y="163.8" font-size="6.6" stroke="#000" stroke-width="0.12" textLength="13.9" lengthAdjust="spacingAndGlyphs">0.43</text>
<text x="281.1" y="163.8" font-size="6.6" stroke="#000" stroke-width="0.12" textLength="13.9" lengthAdjust="spacingAndGlyphs">0.37</text>
<text x="303.7" y="163.8" font-size="6.6" stroke="#000" stroke-width="0.12" textLength="13.9" lengthAdjust="spacingAndGlyphs">0.31</text>
<text x="258" y="172.9" font-size="6.6" stroke="#000" stroke-width="0.12" textLength="13.9" lengthAdjust="spacingAndGlyphs">0.67</text>
<text x="281.1" y="172.9" font-size="6.6" stroke="#000" stroke-width="0.12" textLength="13.9" lengthAdjust="spacingAndGlyphs">0.58</text>
<text x="303.7" y="172.9" font-size="6.6" stroke="#000" stroke-width="0.12" textLength="13.9" lengthAdjust="spacingAndGlyphs">0.50</text>
<text x="258" y="181.6" font-size="6.6" stroke="#000" stroke-width="0.12" textLength="13.9" lengthAdjust="spacingAndGlyphs">0.78</text>
<text x="281.1" y="181.6" font-size="6.6" stroke="#000" stroke-width="0.12" textLength="13.9" lengthAdjust="spacingAndGlyphs">0.74</text>
<text x="303.7" y="181.6" font-size="6.6" stroke="#000" stroke-width="0.12" textLength="13.9" lengthAdjust="spacingAndGlyphs">0.69</text>
<polygon points="253.7,158.3 254.5,158.3 256.3,185.4 253.7,185.4" fill="#000"/>
<polygon points="253.7,185.4 256.7,184.6 323.9,182.8 323.9,185.4" fill="#000"/>
<text x="264.6" y="192.2" font-size="6.6" stroke="#000" stroke-width="0.12" text-anchor="middle">1</text>
<text x="287.7" y="192.2" font-size="6.6" stroke="#000" stroke-width="0.12" text-anchor="middle">2</text>
<text x="310.8" y="192.2" font-size="6.6" stroke="#000" stroke-width="0.12" text-anchor="middle">5</text>
<text x="277.6" y="201.9" font-size="9" stroke="#000" stroke-width="0.3" textLength="9.8" lengthAdjust="spacingAndGlyphs">Len</text>
<text x="290" y="201.9" font-size="9" stroke="#000" stroke-width="0.3" textLength="15.4" lengthAdjust="spacingAndGlyphs">(µM)</text>
<text x="388.6" y="27.2" font-size="8.9" stroke="#000" stroke-width="0.12" textLength="65" lengthAdjust="spacingAndGlyphs">patient CD138+</text>
<text x="339.8" y="79.8" font-size="8.8" stroke="#000" stroke-width="0.2" text-anchor="middle" textLength="31" lengthAdjust="spacingAndGlyphs" transform="rotate(-90 339.8 79.8)">% lysis of</text>
<text x="350.8" y="78.2" font-size="8.8" stroke="#000" stroke-width="0.2" text-anchor="middle" textLength="47" lengthAdjust="spacingAndGlyphs" transform="rotate(-90 350.8 78.2)">patient MM cells</text>
<line x1="375.5" y1="47" x2="375.5" y2="111" stroke="#000" stroke-width="1"/>
<line x1="375" y1="110.5" x2="465.5" y2="110.5" stroke="#000" stroke-width="1"/>
<line x1="372" y1="110.5" x2="375.5" y2="110.5" stroke="#000" stroke-width="1"/>
<text x="369.6" y="112.8" font-size="8" stroke="#000" stroke-width="0.12" text-anchor="end" textLength="4.2" lengthAdjust="spacingAndGlyphs">0</text>
<line x1="372" y1="95.5" x2="375.5" y2="95.5" stroke="#000" stroke-width="1"/>
<text x="369.6" y="97.3" font-size="8" stroke="#000" stroke-width="0.12" text-anchor="end" textLength="8.4" lengthAdjust="spacingAndGlyphs">25</text>
<line x1="372" y1="79.5" x2="375.5" y2="79.5" stroke="#000" stroke-width="1"/>
<text x="369.6" y="81.8" font-size="8" stroke="#000" stroke-width="0.12" text-anchor="end" textLength="8.4" lengthAdjust="spacingAndGlyphs">50</text>
<line x1="372" y1="64.5" x2="375.5" y2="64.5" stroke="#000" stroke-width="1"/>
<text x="369.6" y="66.3" font-size="8" stroke="#000" stroke-width="0.12" text-anchor="end" textLength="8.4" lengthAdjust="spacingAndGlyphs">75</text>
<line x1="372" y1="48.5" x2="375.5" y2="48.5" stroke="#000" stroke-width="1"/>
<text x="369.6" y="50.8" font-size="8" stroke="#000" stroke-width="0.12" text-anchor="end" textLength="12.6" lengthAdjust="spacingAndGlyphs">100</text>
<line x1="387.5" y1="110.5" x2="387.5" y2="113.5" stroke="#000" stroke-width="1"/>
<text x="387" y="123.3" font-size="7" stroke="#000" stroke-width="0.12" text-anchor="middle">0</text>
<line x1="409.5" y1="110.5" x2="409.5" y2="113.5" stroke="#000" stroke-width="1"/>
<text x="409.9" y="123.3" font-size="7" stroke="#000" stroke-width="0.12" text-anchor="middle">9.3</text>
<line x1="432.5" y1="110.5" x2="432.5" y2="113.5" stroke="#000" stroke-width="1"/>
<text x="432.9" y="123.3" font-size="7" stroke="#000" stroke-width="0.12" text-anchor="middle">18.7</text>
<line x1="455.5" y1="110.5" x2="455.5" y2="113.5" stroke="#000" stroke-width="1"/>
<text x="455.8" y="123.3" font-size="7" stroke="#000" stroke-width="0.12" text-anchor="middle">37.4</text>
<text x="400.3" y="135.4" font-size="9" stroke="#000" stroke-width="0.3" textLength="26.9" lengthAdjust="spacingAndGlyphs">AMG 701</text>
<text x="430" y="135.4" font-size="9" stroke="#000" stroke-width="0.3" textLength="13" lengthAdjust="spacingAndGlyphs">(pM)</text>
<line x1="380" y1="110.5" x2="380" y2="106.2" stroke="#2a2a2a" stroke-width="0.9"/>
<line x1="378.8" y1="106.7" x2="381.2" y2="106.7" stroke="#111" stroke-width="1.1"/>
<line x1="384.7" y1="110.5" x2="384.7" y2="105.3" stroke="#2a2a2a" stroke-width="0.9"/>
<line x1="383.5" y1="105.8" x2="385.9" y2="105.8" stroke="#111" stroke-width="1.1"/>
<line x1="389.5" y1="110.5" x2="389.5" y2="104.9" stroke="#2a2a2a" stroke-width="0.9"/>
<line x1="388.3" y1="105.4" x2="390.7" y2="105.4" stroke="#111" stroke-width="1.1"/>
<rect x="392.2" y="109.6" width="4" height="0.9" fill="#8d84c5"/>
<line x1="394.2" y1="110.5" x2="394.2" y2="104.9" stroke="#2a2a2a" stroke-width="0.9"/>
<line x1="393" y1="105.4" x2="395.4" y2="105.4" stroke="#111" stroke-width="1.1"/>
<rect x="400.9" y="97.9" width="4.1" height="12.6" fill="#a9032a"/>
<line x1="402.95" y1="97.9" x2="402.95" y2="96.1" stroke="#2a2a2a" stroke-width="0.9"/>
<line x1="401.75" y1="96.6" x2="404.15" y2="96.6" stroke="#111" stroke-width="1.1"/>
<rect x="405.45" y="88" width="4.1" height="22.5" fill="#e0931b"/>
<line x1="407.5" y1="88" x2="407.5" y2="85.5" stroke="#2a2a2a" stroke-width="0.9"/>
<line x1="406.3" y1="86" x2="408.7" y2="86" stroke="#111" stroke-width="1.1"/>
<rect x="410" y="83.2" width="4.1" height="27.3" fill="#2f624b"/>
<line x1="412.05" y1="83.2" x2="412.05" y2="81" stroke="#2a2a2a" stroke-width="0.9"/>
<line x1="410.85" y1="81.5" x2="413.25" y2="81.5" stroke="#111" stroke-width="1.1"/>
<rect x="414.55" y="76.7" width="4.1" height="33.8" fill="#8d84c5"/>
<line x1="416.6" y1="76.7" x2="416.6" y2="75" stroke="#2a2a2a" stroke-width="0.9"/>
<line x1="415.4" y1="75.5" x2="417.8" y2="75.5" stroke="#111" stroke-width="1.1"/>
<rect x="423.9" y="88" width="4.1" height="22.5" fill="#a9032a"/>
<line x1="425.95" y1="88" x2="425.95" y2="86.8" stroke="#2a2a2a" stroke-width="0.9"/>
<line x1="424.75" y1="87.3" x2="427.15" y2="87.3" stroke="#111" stroke-width="1.1"/>
<rect x="428.45" y="81.5" width="4.1" height="29" fill="#e0931b"/>
<line x1="430.5" y1="81.5" x2="430.5" y2="80.6" stroke="#2a2a2a" stroke-width="0.9"/>
<line x1="429.3" y1="81.1" x2="431.7" y2="81.1" stroke="#111" stroke-width="1.1"/>
<rect x="433" y="78.8" width="4.1" height="31.7" fill="#2f624b"/>
<line x1="435.05" y1="78.8" x2="435.05" y2="76.2" stroke="#2a2a2a" stroke-width="0.9"/>
<line x1="433.85" y1="76.7" x2="436.25" y2="76.7" stroke="#111" stroke-width="1.1"/>
<rect x="437.55" y="75.3" width="4.1" height="35.2" fill="#8d84c5"/>
<line x1="439.6" y1="75.3" x2="439.6" y2="72.1" stroke="#2a2a2a" stroke-width="0.9"/>
<line x1="438.4" y1="72.6" x2="440.8" y2="72.6" stroke="#111" stroke-width="1.1"/>
<rect x="446.8" y="81" width="4.1" height="29.5" fill="#a9032a"/>
<line x1="448.85" y1="81" x2="448.85" y2="78" stroke="#2a2a2a" stroke-width="0.9"/>
<line x1="447.65" y1="78.5" x2="450.05" y2="78.5" stroke="#111" stroke-width="1.1"/>
<rect x="451.35" y="74.4" width="4.1" height="36.1" fill="#e0931b"/>
<line x1="453.4" y1="74.4" x2="453.4" y2="73.2" stroke="#2a2a2a" stroke-width="0.9"/>
<line x1="452.2" y1="73.7" x2="454.6" y2="73.7" stroke="#111" stroke-width="1.1"/>
<rect x="455.9" y="69.6" width="4.1" height="40.9" fill="#2f624b"/>
<line x1="457.95" y1="69.6" x2="457.95" y2="68.6" stroke="#2a2a2a" stroke-width="0.9"/>
<line x1="456.75" y1="69.1" x2="459.15" y2="69.1" stroke="#111" stroke-width="1.1"/>
<rect x="460.45" y="67.7" width="4.1" height="42.8" fill="#8d84c5"/>
<line x1="462.5" y1="67.7" x2="462.5" y2="66.1" stroke="#2a2a2a" stroke-width="0.9"/>
<line x1="461.3" y1="66.6" x2="463.7" y2="66.6" stroke="#111" stroke-width="1.1"/>
<line x1="402" y1="51.2" x2="416.8" y2="51.2" stroke="#111" stroke-width="0.9"/>
<circle cx="403.55" cy="47.3" r="0.85" fill="#111"/>
<circle cx="406.45" cy="47.3" r="0.85" fill="#111"/>
<circle cx="409.35" cy="47.3" r="0.85" fill="#111"/>
<circle cx="412.25" cy="47.3" r="0.85" fill="#111"/>
<line x1="402" y1="57.9" x2="412.8" y2="57.9" stroke="#3a3a3a" stroke-width="1.2"/>
<circle cx="404.85" cy="54" r="0.85" fill="#111"/>
<circle cx="407.75" cy="54" r="0.85" fill="#111"/>
<circle cx="410.65" cy="54" r="0.85" fill="#111"/>
<line x1="403.1" y1="65.1" x2="407.7" y2="65.1" stroke="#3a3a3a" stroke-width="1.2"/>
<circle cx="405.55" cy="61.2" r="0.85" fill="#111"/>
<circle cx="407.95" cy="61.2" r="0.85" fill="#111"/>
<line x1="424.4" y1="51.2" x2="439.5" y2="51.2" stroke="#111" stroke-width="0.9"/>
<circle cx="431.85" cy="47.3" r="0.85" fill="#111"/>
<circle cx="434.85" cy="47.3" r="0.85" fill="#111"/>
<line x1="424.9" y1="57.9" x2="435" y2="57.9" stroke="#3a3a3a" stroke-width="1.2"/>
<circle cx="426.45" cy="54" r="0.85" fill="#111"/>
<circle cx="429.65" cy="54" r="0.85" fill="#111"/>
<circle cx="432.85" cy="54" r="0.85" fill="#111"/>
<line x1="424.9" y1="65.1" x2="430.3" y2="65.1" stroke="#3a3a3a" stroke-width="1.2"/>
<circle cx="425.05" cy="61.2" r="0.85" fill="#111"/>
<circle cx="428.25" cy="61.2" r="0.85" fill="#111"/>
<circle cx="431.45" cy="61.2" r="0.85" fill="#111"/>
<line x1="448" y1="51.2" x2="463.3" y2="51.2" stroke="#111" stroke-width="0.9"/>
<circle cx="452.65" cy="47.3" r="0.85" fill="#111"/>
<circle cx="455.85" cy="47.3" r="0.85" fill="#111"/>
<circle cx="459.05" cy="47.3" r="0.85" fill="#111"/>
<line x1="448" y1="57.9" x2="458.6" y2="57.9" stroke="#3a3a3a" stroke-width="1.2"/>
<circle cx="450.65" cy="54" r="0.85" fill="#111"/>
<circle cx="453.5" cy="54" r="0.85" fill="#111"/>
<circle cx="456.35" cy="54" r="0.85" fill="#111"/>
<line x1="448.5" y1="65.1" x2="453.5" y2="65.1" stroke="#3a3a3a" stroke-width="1.2"/>
<circle cx="449.75" cy="61.2" r="0.85" fill="#111"/>
<circle cx="452.35" cy="61.2" r="0.85" fill="#111"/>
<rect x="470.6" y="47.4" width="5.4" height="5" fill="#a9032a"/>
<text x="479.7" y="52.3" font-size="6.8" stroke="#000" stroke-width="0.12">ctrl</text>
<rect x="470.6" y="57.75" width="5.4" height="5" fill="#e0931b"/>
<text x="479.7" y="62.65" font-size="6.8" stroke="#000" stroke-width="0.12" textLength="29.3" lengthAdjust="spacingAndGlyphs">len (1µM)</text>
<rect x="470.6" y="68.1" width="5.4" height="5" fill="#2f624b"/>
<text x="479.7" y="73" font-size="6.8" stroke="#000" stroke-width="0.12">len (2)</text>
<rect x="470.6" y="78.45" width="5.4" height="5" fill="#8d84c5"/>
<text x="479.7" y="83.35" font-size="6.8" stroke="#000" stroke-width="0.12">len (5)</text>
<text x="420" y="150.7" font-size="9.6" stroke="#000" stroke-width="0.12">CI</text>
<line x1="387.6" y1="154.7" x2="460.1" y2="154.7" stroke="#333" stroke-width="1"/>
<text x="388.8" y="163.8" font-size="6.6" stroke="#000" stroke-width="0.12" text-anchor="end" textLength="10.65" lengthAdjust="spacingAndGlyphs">9.3</text>
<text x="388.8" y="172.9" font-size="6.6" stroke="#000" stroke-width="0.12" text-anchor="end" textLength="14.2" lengthAdjust="spacingAndGlyphs">18.7</text>
<text x="388.8" y="181.6" font-size="6.6" stroke="#000" stroke-width="0.12" text-anchor="end" textLength="14.2" lengthAdjust="spacingAndGlyphs">37.4</text>
<text x="342.1" y="170" font-size="6.9" stroke="#000" stroke-width="0.12" textLength="29.8" lengthAdjust="spacingAndGlyphs">AMG 701</text>
<text x="342.1" y="178.7" font-size="6.9" stroke="#000" stroke-width="0.12" textLength="14.2" lengthAdjust="spacingAndGlyphs">(pM)</text>
<text x="394.8" y="163.8" font-size="6.6" stroke="#000" stroke-width="0.12" textLength="14.6" lengthAdjust="spacingAndGlyphs">0.44</text>
<text x="418.3" y="163.8" font-size="6.6" stroke="#000" stroke-width="0.12" textLength="14.6" lengthAdjust="spacingAndGlyphs">0.32</text>
<text x="441.7" y="163.8" font-size="6.6" stroke="#000" stroke-width="0.12" textLength="14.6" lengthAdjust="spacingAndGlyphs">0.20</text>
<text x="394.8" y="172.9" font-size="6.6" stroke="#000" stroke-width="0.12" textLength="14.6" lengthAdjust="spacingAndGlyphs">0.56</text>
<text x="418.3" y="172.9" font-size="6.6" stroke="#000" stroke-width="0.12" textLength="14.6" lengthAdjust="spacingAndGlyphs">0.46</text>
<text x="441.7" y="172.9" font-size="6.6" stroke="#000" stroke-width="0.12" textLength="14.6" lengthAdjust="spacingAndGlyphs">0.36</text>
<text x="394.8" y="181.6" font-size="6.6" stroke="#000" stroke-width="0.12" textLength="14.6" lengthAdjust="spacingAndGlyphs">0.67</text>
<text x="418.3" y="181.6" font-size="6.6" stroke="#000" stroke-width="0.12" textLength="14.6" lengthAdjust="spacingAndGlyphs">0.47</text>
<text x="441.7" y="181.6" font-size="6.6" stroke="#000" stroke-width="0.12" textLength="14.6" lengthAdjust="spacingAndGlyphs">0.40</text>
<polygon points="390,158.3 390.8,158.3 392.6,185.4 390,185.4" fill="#000"/>
<polygon points="390,185.4 393,184.6 460.1,182.8 460.1,185.4" fill="#000"/>
<text x="402" y="192.2" font-size="6.6" stroke="#000" stroke-width="0.12" text-anchor="middle">1</text>
<text x="425" y="192.2" font-size="6.6" stroke="#000" stroke-width="0.12" text-anchor="middle">2</text>
<text x="448.7" y="192.2" font-size="6.6" stroke="#000" stroke-width="0.12" text-anchor="middle">5</text>
<text x="410" y="201.9" font-size="9" stroke="#000" stroke-width="0.3" textLength="9.8" lengthAdjust="spacingAndGlyphs">Len</text>
<text x="422.4" y="201.9" font-size="9" stroke="#000" stroke-width="0.3" textLength="15.4" lengthAdjust="spacingAndGlyphs">(µM)</text>
<text x="197.4" y="243.4" font-size="8.7" stroke="#000" stroke-width="0.12" textLength="42.6" lengthAdjust="spacingAndGlyphs">Target cell:</text>
<text x="269.6" y="243.4" font-size="8.9" stroke="#000" stroke-width="0.12" textLength="26.6" lengthAdjust="spacingAndGlyphs">MM1S</text>
<text x="213.7" y="294.5" font-size="8.8" stroke="#000" stroke-width="0.2" text-anchor="middle" textLength="50.5" lengthAdjust="spacingAndGlyphs" transform="rotate(-90 213.7 294.5)">% lysis of MM1S</text>
<line x1="238.7" y1="264.8" x2="238.7" y2="325.6" stroke="#000" stroke-width="1"/>
<line x1="238.2" y1="325.5" x2="327.8" y2="325.5" stroke="#000" stroke-width="1"/>
<line x1="235.2" y1="325.5" x2="238.7" y2="325.5" stroke="#000" stroke-width="1"/>
<text x="232.8" y="327.4" font-size="8" stroke="#000" stroke-width="0.12" text-anchor="end" textLength="4.2" lengthAdjust="spacingAndGlyphs">0</text>
<line x1="235.2" y1="310.5" x2="238.7" y2="310.5" stroke="#000" stroke-width="1"/>
<text x="232.8" y="312.7" font-size="8" stroke="#000" stroke-width="0.12" text-anchor="end" textLength="8.4" lengthAdjust="spacingAndGlyphs">25</text>
<line x1="235.2" y1="295.5" x2="238.7" y2="295.5" stroke="#000" stroke-width="1"/>
<text x="232.8" y="298" font-size="8" stroke="#000" stroke-width="0.12" text-anchor="end" textLength="8.4" lengthAdjust="spacingAndGlyphs">50</text>
<line x1="235.2" y1="281.5" x2="238.7" y2="281.5" stroke="#000" stroke-width="1"/>
<text x="232.8" y="283.3" font-size="8" stroke="#000" stroke-width="0.12" text-anchor="end" textLength="8.4" lengthAdjust="spacingAndGlyphs">75</text>
<line x1="235.2" y1="266.5" x2="238.7" y2="266.5" stroke="#000" stroke-width="1"/>
<text x="232.8" y="268.6" font-size="8" stroke="#000" stroke-width="0.12" text-anchor="end" textLength="12.6" lengthAdjust="spacingAndGlyphs">100</text>
<line x1="250.5" y1="325.1" x2="250.5" y2="328.1" stroke="#000" stroke-width="1"/>
<text x="250.2" y="337.8" font-size="7" stroke="#000" stroke-width="0.12" text-anchor="middle">0</text>
<line x1="272.5" y1="325.1" x2="272.5" y2="328.1" stroke="#000" stroke-width="1"/>
<text x="272.3" y="337.8" font-size="7" stroke="#000" stroke-width="0.12" text-anchor="middle">9.3</text>
<line x1="294.5" y1="325.1" x2="294.5" y2="328.1" stroke="#000" stroke-width="1"/>
<text x="294.4" y="337.8" font-size="7" stroke="#000" stroke-width="0.12" text-anchor="middle">18.7</text>
<line x1="316.5" y1="325.1" x2="316.5" y2="328.1" stroke="#000" stroke-width="1"/>
<text x="316.5" y="337.8" font-size="7" stroke="#000" stroke-width="0.12" text-anchor="middle">37.4</text>
<text x="261.7" y="350.6" font-size="9" stroke="#000" stroke-width="0.3" textLength="26.9" lengthAdjust="spacingAndGlyphs">AMG 701</text>
<text x="291.4" y="350.6" font-size="9" stroke="#000" stroke-width="0.3" textLength="13" lengthAdjust="spacingAndGlyphs">(pM)</text>
<line x1="243.4" y1="325.1" x2="243.4" y2="323" stroke="#2a2a2a" stroke-width="0.9"/>
<line x1="242.2" y1="323.5" x2="244.6" y2="323.5" stroke="#111" stroke-width="1.1"/>
<rect x="245.6" y="324.2" width="4" height="0.9" fill="#e0931b"/>
<line x1="247.6" y1="325.1" x2="247.6" y2="321.1" stroke="#2a2a2a" stroke-width="0.9"/>
<line x1="246.4" y1="321.6" x2="248.8" y2="321.6" stroke="#111" stroke-width="1.1"/>
<line x1="251.9" y1="325.1" x2="251.9" y2="321.1" stroke="#2a2a2a" stroke-width="0.9"/>
<line x1="250.7" y1="321.6" x2="253.1" y2="321.6" stroke="#111" stroke-width="1.1"/>
<line x1="256.1" y1="325.1" x2="256.1" y2="321.5" stroke="#2a2a2a" stroke-width="0.9"/>
<line x1="254.9" y1="322" x2="257.3" y2="322" stroke="#111" stroke-width="1.1"/>
<rect x="263.3" y="307.7" width="4.1" height="17.4" fill="#a9032a"/>
<line x1="265.35" y1="307.7" x2="265.35" y2="304.1" stroke="#2a2a2a" stroke-width="0.9"/>
<line x1="264.15" y1="304.6" x2="266.55" y2="304.6" stroke="#111" stroke-width="1.1"/>
<rect x="267.85" y="290.6" width="4.1" height="34.5" fill="#e0931b"/>
<line x1="269.9" y1="290.6" x2="269.9" y2="289.2" stroke="#2a2a2a" stroke-width="0.9"/>
<line x1="268.7" y1="289.7" x2="271.1" y2="289.7" stroke="#111" stroke-width="1.1"/>
<rect x="272.4" y="287.7" width="4.1" height="37.4" fill="#2f624b"/>
<line x1="274.45" y1="287.7" x2="274.45" y2="285.6" stroke="#2a2a2a" stroke-width="0.9"/>
<line x1="273.25" y1="286.1" x2="275.65" y2="286.1" stroke="#111" stroke-width="1.1"/>
<rect x="276.95" y="283.9" width="4.1" height="41.2" fill="#8d84c5"/>
<line x1="279" y1="283.9" x2="279" y2="282.3" stroke="#2a2a2a" stroke-width="0.9"/>
<line x1="277.8" y1="282.8" x2="280.2" y2="282.8" stroke="#111" stroke-width="1.1"/>
<rect x="285.4" y="295.5" width="4.1" height="29.6" fill="#a9032a"/>
<line x1="287.45" y1="295.5" x2="287.45" y2="291.2" stroke="#2a2a2a" stroke-width="0.9"/>
<line x1="286.25" y1="291.7" x2="288.65" y2="291.7" stroke="#111" stroke-width="1.1"/>
<rect x="289.95" y="285.3" width="4.1" height="39.8" fill="#e0931b"/>
<line x1="292" y1="285.3" x2="292" y2="283.5" stroke="#2a2a2a" stroke-width="0.9"/>
<line x1="290.8" y1="284" x2="293.2" y2="284" stroke="#111" stroke-width="1.1"/>
<rect x="294.5" y="281.9" width="4.1" height="43.2" fill="#2f624b"/>
<line x1="296.55" y1="281.9" x2="296.55" y2="280.4" stroke="#2a2a2a" stroke-width="0.9"/>
<line x1="295.35" y1="280.9" x2="297.75" y2="280.9" stroke="#111" stroke-width="1.1"/>
<rect x="299.05" y="278.3" width="4.1" height="46.8" fill="#8d84c5"/>
<line x1="301.1" y1="278.3" x2="301.1" y2="276.8" stroke="#2a2a2a" stroke-width="0.9"/>
<line x1="299.9" y1="277.3" x2="302.3" y2="277.3" stroke="#111" stroke-width="1.1"/>
<rect x="307.5" y="282.9" width="4.1" height="42.2" fill="#a9032a"/>
<line x1="309.55" y1="282.9" x2="309.55" y2="280.2" stroke="#2a2a2a" stroke-width="0.9"/>
<line x1="308.35" y1="280.7" x2="310.75" y2="280.7" stroke="#111" stroke-width="1.1"/>
<rect x="312.05" y="277.7" width="4.1" height="47.4" fill="#e0931b"/>
<line x1="314.1" y1="277.7" x2="314.1" y2="276" stroke="#2a2a2a" stroke-width="0.9"/>
<line x1="312.9" y1="276.5" x2="315.3" y2="276.5" stroke="#111" stroke-width="1.1"/>
<rect x="316.6" y="273.2" width="4.1" height="51.9" fill="#2f624b"/>
<line x1="318.65" y1="273.2" x2="318.65" y2="270.4" stroke="#2a2a2a" stroke-width="0.9"/>
<line x1="317.45" y1="270.9" x2="319.85" y2="270.9" stroke="#111" stroke-width="1.1"/>
<rect x="321.15" y="273.6" width="4.1" height="51.5" fill="#8d84c5"/>
<line x1="323.2" y1="273.6" x2="323.2" y2="270.5" stroke="#2a2a2a" stroke-width="0.9"/>
<line x1="322" y1="271" x2="324.4" y2="271" stroke="#111" stroke-width="1.1"/>
<line x1="264.5" y1="255.1" x2="278.9" y2="255.1" stroke="#111" stroke-width="0.9"/>
<circle cx="268.25" cy="251.2" r="0.85" fill="#111"/>
<circle cx="271.05" cy="251.2" r="0.85" fill="#111"/>
<circle cx="273.85" cy="251.2" r="0.85" fill="#111"/>
<circle cx="276.65" cy="251.2" r="0.85" fill="#111"/>
<line x1="265" y1="264.8" x2="274.8" y2="264.8" stroke="#777" stroke-width="1.2"/>
<circle cx="265.85" cy="260.9" r="0.85" fill="#111"/>
<circle cx="268.55" cy="260.9" r="0.85" fill="#111"/>
<circle cx="271.25" cy="260.9" r="0.85" fill="#111"/>
<circle cx="273.95" cy="260.9" r="0.85" fill="#111"/>
<line x1="265.4" y1="273.7" x2="269.8" y2="273.7" stroke="#777" stroke-width="1.2"/>
<circle cx="263.95" cy="269.8" r="0.85" fill="#111"/>
<circle cx="266.72" cy="269.8" r="0.85" fill="#111"/>
<circle cx="269.48" cy="269.8" r="0.85" fill="#111"/>
<circle cx="272.25" cy="269.8" r="0.85" fill="#111"/>
<line x1="286.4" y1="255.1" x2="300.8" y2="255.1" stroke="#111" stroke-width="0.9"/>
<circle cx="290.15" cy="251.2" r="0.85" fill="#111"/>
<circle cx="292.95" cy="251.2" r="0.85" fill="#111"/>
<circle cx="295.75" cy="251.2" r="0.85" fill="#111"/>
<circle cx="298.55" cy="251.2" r="0.85" fill="#111"/>
<line x1="286.9" y1="264.8" x2="296.7" y2="264.8" stroke="#777" stroke-width="1.2"/>
<circle cx="287.75" cy="260.9" r="0.85" fill="#111"/>
<circle cx="290.45" cy="260.9" r="0.85" fill="#111"/>
<circle cx="293.15" cy="260.9" r="0.85" fill="#111"/>
<circle cx="295.85" cy="260.9" r="0.85" fill="#111"/>
<line x1="287.3" y1="273.7" x2="291.7" y2="273.7" stroke="#777" stroke-width="1.2"/>
<circle cx="285.85" cy="269.8" r="0.85" fill="#111"/>
<circle cx="288.62" cy="269.8" r="0.85" fill="#111"/>
<circle cx="291.38" cy="269.8" r="0.85" fill="#111"/>
<circle cx="294.15" cy="269.8" r="0.85" fill="#111"/>
<line x1="308.9" y1="255.1" x2="323.3" y2="255.1" stroke="#111" stroke-width="0.9"/>
<circle cx="312.65" cy="251.2" r="0.85" fill="#111"/>
<circle cx="315.45" cy="251.2" r="0.85" fill="#111"/>
<circle cx="318.25" cy="251.2" r="0.85" fill="#111"/>
<circle cx="321.05" cy="251.2" r="0.85" fill="#111"/>
<line x1="309.4" y1="264.8" x2="319.2" y2="264.8" stroke="#777" stroke-width="1.2"/>
<circle cx="310.25" cy="260.9" r="0.85" fill="#111"/>
<circle cx="312.95" cy="260.9" r="0.85" fill="#111"/>
<circle cx="315.65" cy="260.9" r="0.85" fill="#111"/>
<circle cx="318.35" cy="260.9" r="0.85" fill="#111"/>
<line x1="309.8" y1="273.7" x2="314.2" y2="273.7" stroke="#777" stroke-width="1.2"/>
<circle cx="308.35" cy="269.8" r="0.85" fill="#111"/>
<circle cx="311.12" cy="269.8" r="0.85" fill="#111"/>
<circle cx="313.88" cy="269.8" r="0.85" fill="#111"/>
<circle cx="316.65" cy="269.8" r="0.85" fill="#111"/>
<text x="283.4" y="365.7" font-size="9.6" stroke="#000" stroke-width="0.12">CI</text>
<line x1="251.3" y1="369.3" x2="323.9" y2="369.3" stroke="#333" stroke-width="1"/>
<text x="251.3" y="378" font-size="6.6" stroke="#000" stroke-width="0.12" text-anchor="end" textLength="10.65" lengthAdjust="spacingAndGlyphs">9.3</text>
<text x="251.3" y="387.4" font-size="6.6" stroke="#000" stroke-width="0.12" text-anchor="end" textLength="14.2" lengthAdjust="spacingAndGlyphs">18.7</text>
<text x="251.3" y="396.6" font-size="6.6" stroke="#000" stroke-width="0.12" text-anchor="end" textLength="14.2" lengthAdjust="spacingAndGlyphs">37.4</text>
<text x="203.2" y="387.4" font-size="6.9" stroke="#000" stroke-width="0.12" textLength="29.8" lengthAdjust="spacingAndGlyphs">AMG 701</text>
<text x="203.2" y="396.2" font-size="6.9" stroke="#000" stroke-width="0.12" textLength="14.2" lengthAdjust="spacingAndGlyphs">(pM)</text>
<text x="259.3" y="378" font-size="6.6" stroke="#000" stroke-width="0.12" textLength="14.2" lengthAdjust="spacingAndGlyphs">0.43</text>
<text x="281.3" y="378" font-size="6.6" stroke="#000" stroke-width="0.12" textLength="14.2" lengthAdjust="spacingAndGlyphs">0.38</text>
<text x="303.5" y="378" font-size="6.6" stroke="#000" stroke-width="0.12" textLength="14.2" lengthAdjust="spacingAndGlyphs">0.34</text>
<text x="259.3" y="387.4" font-size="6.6" stroke="#000" stroke-width="0.12" textLength="14.2" lengthAdjust="spacingAndGlyphs">0.70</text>
<text x="281.3" y="387.4" font-size="6.6" stroke="#000" stroke-width="0.12" textLength="14.2" lengthAdjust="spacingAndGlyphs">0.62</text>
<text x="303.5" y="387.4" font-size="6.6" stroke="#000" stroke-width="0.12" textLength="14.2" lengthAdjust="spacingAndGlyphs">0.52</text>
<text x="259.3" y="396.6" font-size="6.6" stroke="#000" stroke-width="0.12" textLength="14.2" lengthAdjust="spacingAndGlyphs">0.99</text>
<text x="281.3" y="396.6" font-size="6.6" stroke="#000" stroke-width="0.12" textLength="14.2" lengthAdjust="spacingAndGlyphs">0.73</text>
<text x="303.5" y="396.6" font-size="6.6" stroke="#000" stroke-width="0.12" textLength="14.2" lengthAdjust="spacingAndGlyphs">0.77</text>
<polygon points="253.1,373.5 253.9,373.5 255.7,400.2 253.1,400.2" fill="#000"/>
<polygon points="253.1,400.2 256.1,399.4 323.9,397.6 323.9,400.2" fill="#000"/>
<text x="266.2" y="407.2" font-size="6.6" stroke="#000" stroke-width="0.12" text-anchor="middle">1</text>
<text x="288.1" y="407.2" font-size="6.6" stroke="#000" stroke-width="0.12" text-anchor="middle">2</text>
<text x="310.2" y="407.2" font-size="6.6" stroke="#000" stroke-width="0.12" text-anchor="middle">5</text>
<text x="272.4" y="415.2" font-size="9" stroke="#000" stroke-width="0.3" textLength="12.9" lengthAdjust="spacingAndGlyphs">Pom</text>
<text x="287.4" y="415.2" font-size="9" stroke="#000" stroke-width="0.3" textLength="15" lengthAdjust="spacingAndGlyphs">(µM)</text>
<text x="392.6" y="243.4" font-size="8.9" stroke="#000" stroke-width="0.12" textLength="61.8" lengthAdjust="spacingAndGlyphs">patient CD138+</text>
<text x="344.6" y="293.4" font-size="8.8" stroke="#000" stroke-width="0.2" text-anchor="middle" textLength="27" lengthAdjust="spacingAndGlyphs" transform="rotate(-90 344.6 293.4)">% lysis of</text>
<text x="354.8" y="293.1" font-size="8.8" stroke="#000" stroke-width="0.2" text-anchor="middle" textLength="47.6" lengthAdjust="spacingAndGlyphs" transform="rotate(-90 354.8 293.1)">patient MM cells</text>
<line x1="380" y1="262.5" x2="380" y2="325.6" stroke="#000" stroke-width="1"/>
<line x1="379.5" y1="325.5" x2="466.8" y2="325.5" stroke="#000" stroke-width="1"/>
<line x1="376.5" y1="325.5" x2="380" y2="325.5" stroke="#000" stroke-width="1"/>
<text x="374.1" y="327.4" font-size="8" stroke="#000" stroke-width="0.12" text-anchor="end" textLength="4.2" lengthAdjust="spacingAndGlyphs">0</text>
<line x1="376.5" y1="309.5" x2="380" y2="309.5" stroke="#000" stroke-width="1"/>
<text x="374.1" y="312.13" font-size="8" stroke="#000" stroke-width="0.12" text-anchor="end" textLength="8.4" lengthAdjust="spacingAndGlyphs">25</text>
<line x1="376.5" y1="294.5" x2="380" y2="294.5" stroke="#000" stroke-width="1"/>
<text x="374.1" y="296.85" font-size="8" stroke="#000" stroke-width="0.12" text-anchor="end" textLength="8.4" lengthAdjust="spacingAndGlyphs">50</text>
<line x1="376.5" y1="279.5" x2="380" y2="279.5" stroke="#000" stroke-width="1"/>
<text x="374.1" y="281.57" font-size="8" stroke="#000" stroke-width="0.12" text-anchor="end" textLength="8.4" lengthAdjust="spacingAndGlyphs">75</text>
<line x1="376.5" y1="264.5" x2="380" y2="264.5" stroke="#000" stroke-width="1"/>
<text x="374.1" y="266.3" font-size="8" stroke="#000" stroke-width="0.12" text-anchor="end" textLength="12.6" lengthAdjust="spacingAndGlyphs">100</text>
<line x1="391.5" y1="325.1" x2="391.5" y2="328.1" stroke="#000" stroke-width="1"/>
<text x="391.5" y="337.8" font-size="7" stroke="#000" stroke-width="0.12" text-anchor="middle">0</text>
<line x1="413.5" y1="325.1" x2="413.5" y2="328.1" stroke="#000" stroke-width="1"/>
<text x="413.9" y="337.8" font-size="7" stroke="#000" stroke-width="0.12" text-anchor="middle">9.3</text>
<line x1="436.5" y1="325.1" x2="436.5" y2="328.1" stroke="#000" stroke-width="1"/>
<text x="436.2" y="337.8" font-size="7" stroke="#000" stroke-width="0.12" text-anchor="middle">18.7</text>
<line x1="458.5" y1="325.1" x2="458.5" y2="328.1" stroke="#000" stroke-width="1"/>
<text x="458.5" y="337.8" font-size="7" stroke="#000" stroke-width="0.12" text-anchor="middle">37.4</text>
<text x="404.1" y="350.6" font-size="9" stroke="#000" stroke-width="0.3" textLength="26.9" lengthAdjust="spacingAndGlyphs">AMG 701</text>
<text x="433.8" y="350.6" font-size="9" stroke="#000" stroke-width="0.3" textLength="13" lengthAdjust="spacingAndGlyphs">(pM)</text>
<line x1="384.2" y1="325.1" x2="384.2" y2="320.9" stroke="#2a2a2a" stroke-width="0.9"/>
<line x1="383" y1="321.4" x2="385.4" y2="321.4" stroke="#111" stroke-width="1.1"/>
<rect x="387.3" y="324.2" width="4" height="0.9" fill="#e0931b"/>
<line x1="389.3" y1="325.1" x2="389.3" y2="321.8" stroke="#2a2a2a" stroke-width="0.9"/>
<line x1="388.1" y1="322.3" x2="390.5" y2="322.3" stroke="#111" stroke-width="1.1"/>
<line x1="394" y1="325.1" x2="394" y2="318.6" stroke="#2a2a2a" stroke-width="0.9"/>
<line x1="392.8" y1="319.1" x2="395.2" y2="319.1" stroke="#111" stroke-width="1.1"/>
<rect x="396.2" y="324.2" width="4" height="0.9" fill="#8d84c5"/>
<line x1="398.2" y1="325.1" x2="398.2" y2="321.8" stroke="#2a2a2a" stroke-width="0.9"/>
<line x1="397" y1="322.3" x2="399.4" y2="322.3" stroke="#111" stroke-width="1.1"/>
<rect x="404.9" y="312.9" width="4.1" height="12.2" fill="#a9032a"/>
<line x1="406.95" y1="312.9" x2="406.95" y2="311.1" stroke="#2a2a2a" stroke-width="0.9"/>
<line x1="405.75" y1="311.6" x2="408.15" y2="311.6" stroke="#111" stroke-width="1.1"/>
<rect x="409.45" y="304.1" width="4.1" height="21" fill="#e0931b"/>
<line x1="411.5" y1="304.1" x2="411.5" y2="302.3" stroke="#2a2a2a" stroke-width="0.9"/>
<line x1="410.3" y1="302.8" x2="412.7" y2="302.8" stroke="#111" stroke-width="1.1"/>
<rect x="414" y="297.7" width="4.1" height="27.4" fill="#2f624b"/>
<line x1="416.05" y1="297.7" x2="416.05" y2="295.9" stroke="#2a2a2a" stroke-width="0.9"/>
<line x1="414.85" y1="296.4" x2="417.25" y2="296.4" stroke="#111" stroke-width="1.1"/>
<rect x="418.55" y="292.9" width="4.1" height="32.2" fill="#8d84c5"/>
<line x1="420.6" y1="292.9" x2="420.6" y2="290.3" stroke="#2a2a2a" stroke-width="0.9"/>
<line x1="419.4" y1="290.8" x2="421.8" y2="290.8" stroke="#111" stroke-width="1.1"/>
<rect x="427.2" y="303" width="4.1" height="22.1" fill="#a9032a"/>
<line x1="429.25" y1="303" x2="429.25" y2="301.8" stroke="#2a2a2a" stroke-width="0.9"/>
<line x1="428.05" y1="302.3" x2="430.45" y2="302.3" stroke="#111" stroke-width="1.1"/>
<rect x="431.75" y="297.4" width="4.1" height="27.7" fill="#e0931b"/>
<line x1="433.8" y1="297.4" x2="433.8" y2="296.5" stroke="#2a2a2a" stroke-width="0.9"/>
<line x1="432.6" y1="297" x2="435" y2="297" stroke="#111" stroke-width="1.1"/>
<rect x="436.3" y="293.8" width="4.1" height="31.3" fill="#2f624b"/>
<line x1="438.35" y1="293.8" x2="438.35" y2="291.7" stroke="#2a2a2a" stroke-width="0.9"/>
<line x1="437.15" y1="292.2" x2="439.55" y2="292.2" stroke="#111" stroke-width="1.1"/>
<rect x="440.85" y="292.4" width="4.1" height="32.7" fill="#8d84c5"/>
<line x1="442.9" y1="292.4" x2="442.9" y2="291.9" stroke="#2a2a2a" stroke-width="0.9"/>
<line x1="441.7" y1="292.4" x2="444.1" y2="292.4" stroke="#111" stroke-width="1.1"/>
<rect x="449.5" y="295.9" width="4.1" height="29.2" fill="#a9032a"/>
<line x1="451.55" y1="295.9" x2="451.55" y2="293.5" stroke="#2a2a2a" stroke-width="0.9"/>
<line x1="450.35" y1="294" x2="452.75" y2="294" stroke="#111" stroke-width="1.1"/>
<rect x="454.05" y="288.9" width="4.1" height="36.2" fill="#e0931b"/>
<line x1="456.1" y1="288.9" x2="456.1" y2="288" stroke="#2a2a2a" stroke-width="0.9"/>
<line x1="454.9" y1="288.5" x2="457.3" y2="288.5" stroke="#111" stroke-width="1.1"/>
<rect x="458.6" y="286.4" width="4.1" height="38.7" fill="#2f624b"/>
<line x1="460.65" y1="286.4" x2="460.65" y2="284.1" stroke="#2a2a2a" stroke-width="0.9"/>
<line x1="459.45" y1="284.6" x2="461.85" y2="284.6" stroke="#111" stroke-width="1.1"/>
<rect x="463.15" y="281.1" width="4.1" height="44" fill="#8d84c5"/>
<line x1="465.2" y1="281.1" x2="465.2" y2="280.2" stroke="#2a2a2a" stroke-width="0.9"/>
<line x1="464" y1="280.7" x2="466.4" y2="280.7" stroke="#111" stroke-width="1.1"/>
<line x1="406.1" y1="262.9" x2="420.9" y2="262.9" stroke="#111" stroke-width="0.9"/>
<circle cx="409.95" cy="259" r="0.85" fill="#111"/>
<circle cx="412.65" cy="259" r="0.85" fill="#111"/>
<circle cx="415.35" cy="259" r="0.85" fill="#111"/>
<line x1="406.1" y1="271.4" x2="416.7" y2="271.4" stroke="#3a3a3a" stroke-width="1.2"/>
<circle cx="408.25" cy="267.5" r="0.85" fill="#111"/>
<circle cx="410.9" cy="267.5" r="0.85" fill="#111"/>
<circle cx="413.55" cy="267.5" r="0.85" fill="#111"/>
<line x1="406.8" y1="280.2" x2="411.4" y2="280.2" stroke="#3a3a3a" stroke-width="1.2"/>
<circle cx="405.95" cy="276.3" r="0.85" fill="#111"/>
<circle cx="408.6" cy="276.3" r="0.85" fill="#111"/>
<circle cx="411.25" cy="276.3" r="0.85" fill="#111"/>
<line x1="428" y1="262.9" x2="442.6" y2="262.9" stroke="#111" stroke-width="0.9"/>
<circle cx="429.95" cy="259" r="0.85" fill="#111"/>
<circle cx="432.72" cy="259" r="0.85" fill="#111"/>
<circle cx="435.48" cy="259" r="0.85" fill="#111"/>
<circle cx="438.25" cy="259" r="0.85" fill="#111"/>
<line x1="428" y1="271.4" x2="438.6" y2="271.4" stroke="#3a3a3a" stroke-width="1.2"/>
<circle cx="430.25" cy="267.5" r="0.85" fill="#111"/>
<circle cx="432.95" cy="267.5" r="0.85" fill="#111"/>
<circle cx="435.65" cy="267.5" r="0.85" fill="#111"/>
<line x1="429.1" y1="280.2" x2="433.3" y2="280.2" stroke="#3a3a3a" stroke-width="1.2"/>
<circle cx="427.65" cy="276.3" r="0.85" fill="#111"/>
<circle cx="430.3" cy="276.3" r="0.85" fill="#111"/>
<circle cx="432.95" cy="276.3" r="0.85" fill="#111"/>
<line x1="451.5" y1="262.9" x2="466.1" y2="262.9" stroke="#111" stroke-width="0.9"/>
<circle cx="455.85" cy="259" r="0.85" fill="#111"/>
<circle cx="458.5" cy="259" r="0.85" fill="#111"/>
<circle cx="461.15" cy="259" r="0.85" fill="#111"/>
<line x1="451.5" y1="271.4" x2="462" y2="271.4" stroke="#3a3a3a" stroke-width="1.2"/>
<circle cx="455.85" cy="267.5" r="0.85" fill="#111"/>
<circle cx="458.95" cy="267.5" r="0.85" fill="#111"/>
<line x1="452.3" y1="280.2" x2="456.8" y2="280.2" stroke="#3a3a3a" stroke-width="1.2"/>
<circle cx="454.05" cy="276.3" r="0.85" fill="#111"/>
<circle cx="456.75" cy="276.3" r="0.85" fill="#111"/>
<rect x="473.4" y="262.9" width="5.4" height="5" fill="#a9032a"/>
<text x="482.5" y="267.8" font-size="6.8" stroke="#000" stroke-width="0.12">ctrl</text>
<rect x="473.4" y="273.25" width="5.4" height="5" fill="#e0931b"/>
<text x="482.5" y="278.15" font-size="6.8" stroke="#000" stroke-width="0.12" textLength="34" lengthAdjust="spacingAndGlyphs">pom (1µM)</text>
<rect x="473.4" y="283.6" width="5.4" height="5" fill="#2f624b"/>
<text x="482.5" y="288.5" font-size="6.8" stroke="#000" stroke-width="0.12">pom (2)</text>
<rect x="473.4" y="293.95" width="5.4" height="5" fill="#8d84c5"/>
<text x="482.5" y="298.85" font-size="6.8" stroke="#000" stroke-width="0.12">pom (5)</text>
<text x="425.8" y="365.2" font-size="9.6" stroke="#000" stroke-width="0.12">CI</text>
<line x1="395.6" y1="369.3" x2="466.3" y2="369.3" stroke="#333" stroke-width="1"/>
<text x="394.6" y="377.6" font-size="6.6" stroke="#000" stroke-width="0.12" text-anchor="end" textLength="10.65" lengthAdjust="spacingAndGlyphs">9.3</text>
<text x="394.6" y="387.4" font-size="6.6" stroke="#000" stroke-width="0.12" text-anchor="end" textLength="14.2" lengthAdjust="spacingAndGlyphs">18.7</text>
<text x="394.6" y="396.8" font-size="6.6" stroke="#000" stroke-width="0.12" text-anchor="end" textLength="14.2" lengthAdjust="spacingAndGlyphs">37.4</text>
<text x="345.6" y="387.4" font-size="6.9" stroke="#000" stroke-width="0.12" textLength="29.8" lengthAdjust="spacingAndGlyphs">AMG 701</text>
<text x="345.6" y="396.2" font-size="6.9" stroke="#000" stroke-width="0.12" textLength="14.2" lengthAdjust="spacingAndGlyphs">(pM)</text>
<text x="399.5" y="377.6" font-size="6.6" stroke="#000" stroke-width="0.12" textLength="14.3" lengthAdjust="spacingAndGlyphs">0.48</text>
<text x="424.7" y="377.6" font-size="6.6" stroke="#000" stroke-width="0.12" textLength="14.3" lengthAdjust="spacingAndGlyphs">0.30</text>
<text x="448.3" y="377.6" font-size="6.6" stroke="#000" stroke-width="0.12" textLength="14.3" lengthAdjust="spacingAndGlyphs">0.21</text>
<text x="399.5" y="387.4" font-size="6.6" stroke="#000" stroke-width="0.12" textLength="14.3" lengthAdjust="spacingAndGlyphs">0.59</text>
<text x="424.7" y="387.4" font-size="6.6" stroke="#000" stroke-width="0.12" textLength="14.3" lengthAdjust="spacingAndGlyphs">0.46</text>
<text x="448.3" y="387.4" font-size="6.6" stroke="#000" stroke-width="0.12" textLength="14.3" lengthAdjust="spacingAndGlyphs">0.42</text>
<text x="399.5" y="396.8" font-size="6.6" stroke="#000" stroke-width="0.12" textLength="14.3" lengthAdjust="spacingAndGlyphs">0.65</text>
<text x="424.7" y="396.8" font-size="6.6" stroke="#000" stroke-width="0.12" textLength="14.3" lengthAdjust="spacingAndGlyphs">0.53</text>
<text x="448.3" y="396.8" font-size="6.6" stroke="#000" stroke-width="0.12" textLength="14.3" lengthAdjust="spacingAndGlyphs">0.35</text>
<polygon points="398,373.5 398.8,373.5 400.6,400.2 398,400.2" fill="#000"/>
<polygon points="398,400.2 401,399.4 466.3,397.6 466.3,400.2" fill="#000"/>
<text x="407" y="405.6" font-size="6.6" stroke="#000" stroke-width="0.12" text-anchor="middle">1</text>
<text x="432" y="405.6" font-size="6.6" stroke="#000" stroke-width="0.12" text-anchor="middle">2</text>
<text x="455" y="405.6" font-size="6.6" stroke="#000" stroke-width="0.12" text-anchor="middle">5</text>
<text x="417.4" y="414.6" font-size="9" stroke="#000" stroke-width="0.3" textLength="12.9" lengthAdjust="spacingAndGlyphs">Pom</text>
<text x="432.4" y="414.6" font-size="9" stroke="#000" stroke-width="0.3" textLength="15" lengthAdjust="spacingAndGlyphs">(µM)</text>
</svg>
</body></html>
